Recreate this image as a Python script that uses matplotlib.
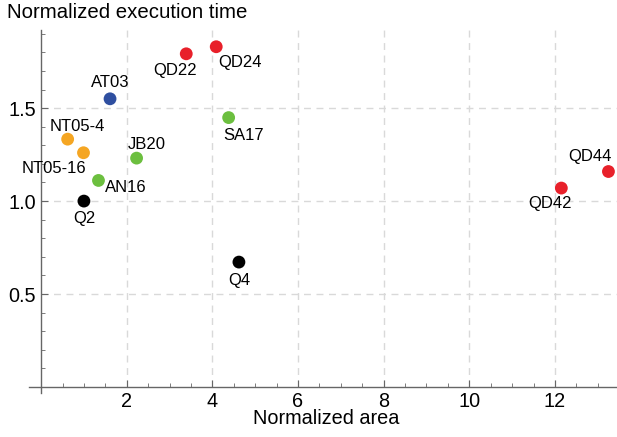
import matplotlib
matplotlib.use("Agg")
from matplotlib import pyplot as plt
from matplotlib.ticker import MultipleLocator

plt.rcParams['font.family'] = ['Liberation Sans', 'DejaVu Sans']

names = ["Q2", "Q4", "AN16", "NT05-16", "NT05-4", "JB20", "AT03", "SA17",
         "QD22", "QD24", "QD42", "QD44"]
area = [1.0, 4.62, 1.34, 0.99, 0.62, 2.23, 1.61, 4.38, 3.39, 4.09, 12.15, 13.25]
exec_time = [1.0, 0.672, 1.111, 1.26, 1.333, 1.231, 1.55, 1.449, 1.792, 1.83, 1.07, 1.159]
colors = ["#000000", "#000000", "#6cbf3f", "#f5a623", "#f5a623", "#6cbf3f", "#2f4fa0",
          "#6cbf3f", "#e8202a", "#e8202a", "#e8202a", "#e8202a"]
# label offsets in pixels (dx, dy), dy positive = up
offsets = [(0, -17), (0, -18), (27, -7), (-30, -16), (10, 13), (10, 14), (0, 16),
           (15, -18), (-11, -17), (24, -16), (-11, -15), (-18, 15)]

fig = plt.figure(figsize=(6.17, 4.37), dpi=100)
ax = fig.add_axes([41.1 / 617 - 0.28 * 42.8 / 617, (437 - 393) / 437,
                   1 - (41.1 - 0.28 * 42.8) / 617, (393 - 30) / 437])
ax.set_xlim(-0.28, 13.45)
ax.set_ylim(-0.032, 1.92)

ax.scatter(area, exec_time, s=85, c=colors, zorder=3, linewidths=0)
for n, x, y, (dx, dy) in zip(names, area, exec_time, offsets):
    ax.annotate(n, (x, y), xytext=(dx, dy), textcoords='offset pixels',
                ha='center', va='center', fontsize=12, color='black')

for s in ['top', 'right']:
    ax.spines[s].set_visible(False)
ax.spines['left'].set_position(('data', 0))
ax.spines['bottom'].set_position(('data', 0))
for s in ['left', 'bottom']:
    ax.spines[s].set_color('#666666')
    ax.spines[s].set_linewidth(1.0)

ax.xaxis.set_major_locator(MultipleLocator(2))
ax.xaxis.set_minor_locator(MultipleLocator(0.5))
ax.yaxis.set_major_locator(MultipleLocator(0.5))
ax.yaxis.set_minor_locator(MultipleLocator(0.1))
ax.tick_params(which='both', direction='in', color='#666666', labelsize=14.3)
ax.tick_params(which='major', length=5)
ax.tick_params(which='minor', length=3)
ax.set_xticks([2, 4, 6, 8, 10, 12])
ax.set_yticks([0.5, 1.0, 1.5])
ax.set_yticklabels(["0.5", "1.0", "1.5"])

for gx in [2, 4, 6, 8, 10, 12]:
    ax.plot([gx, gx], [0, 1.92], color='#d9d9d9', lw=1, ls=(0, (5, 4)), zorder=0)
for gy in [0.5, 1.0, 1.5]:
    ax.plot([0, 13.45], [gy, gy], color='#d9d9d9', lw=1, ls=(0, (5, 4)), zorder=0)

fig.text(326 / 617, (437 - 419) / 437, "Normalized area", fontsize=14.3,
         va='center', ha='center')
fig.text(0.011, (437 - 12) / 437, "Normalized execution time", fontsize=14.7,
         va='center', ha='left')

fig.savefig("out.png", dpi=100)
